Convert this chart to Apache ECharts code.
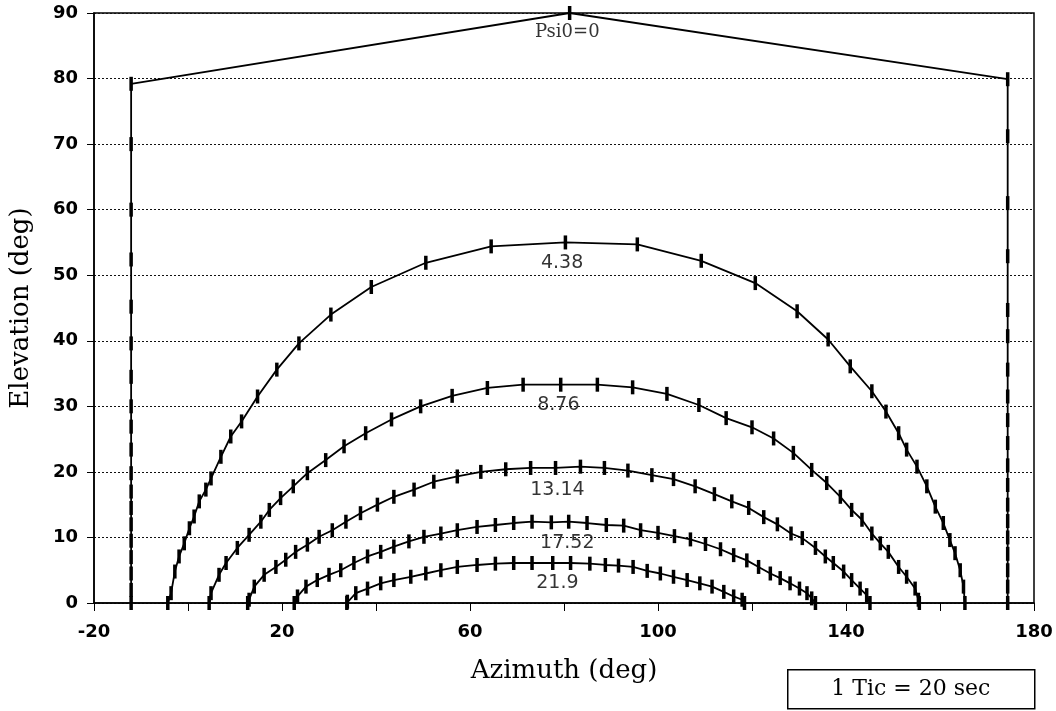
<!DOCTYPE html>
<html>
<head>
<meta charset="utf-8">
<script src="https://cdn.jsdelivr.net/npm/echarts@6/dist/echarts.min.js"></script>
<style>
html,body{margin:0;padding:0;background:#fff;}
#chart{width:1056px;height:711px;}
</style>
</head>
<body>
<div id="chart"></div>
<script>
// Azimuth (deg), Elevation (deg) at each 20 s tic
const curvePsi0 = [[-12.1,0],[-12.1,2],[-12.1,4.5],[-12.1,7],[-12.1,9.5],[-12.1,12],[-12.1,14.5],[-12.1,17],[-12.1,19.8],[-12.1,23.4],[-12.1,26.9],[-12.1,30],[-12.1,34.5],[-12.1,39.6],[-12.1,45.2],[-12.1,52.4],[-12.1,60],[-12.1,70],[-12.1,79.2],[81.2,90],[174.4,79.9],[174.4,71.2],[174.4,61],[174.4,52.9],[174.4,44.7],[174.4,40.7],[174.4,35.6],[174.4,31.5],[174.4,27.9],[174.4,24.4],[174.4,21],[174.4,18],[174.4,15],[174.4,12.5],[174.4,10],[174.4,7.5],[174.4,5],[174.4,2.5],[174.4,0]];
const curve438 = [[-4.3,0],[-3.6,1.5],[-2.8,4.8],[-1.9,7.1],[-0.8,9.1],[0.3,11.4],[1.3,13.2],[2.4,15.5],[3.8,17.3],[4.9,19.0],[7.0,22.3],[9.1,25.4],[11.4,27.7],[14.8,31.5],[18.9,35.6],[23.6,39.6],[30.4,44.0],[39.0,48.2],[50.6,51.9],[64.5,54.4],[80.3,55.0],[95.6,54.7],[109.2,52.2],[120.7,48.8],[129.6,44.5],[136.2,40.2],[140.9,36.1],[145.5,32.3],[148.5,29.2],[151.2,25.9],[152.9,23.4],[155.1,20.8],[157.2,17.8],[159.0,14.7],[160.7,12.2],[162.1,9.6],[163.2,7.6],[164.3,5.0],[165.0,2.5],[165.3,0]];
const curve876 = [[4.5,0],[4.9,1.5],[6.6,4.3],[8.1,6.1],[10.5,8.4],[13.0,10.4],[15.5,12.4],[17.3,14.2],[19.7,16.0],[22.4,17.8],[25.4,19.8],[29.3,21.8],[33.2,23.9],[37.8,25.9],[43.3,28.0],[49.5,30.0],[56.2,31.6],[63.7,32.8],[71.3,33.3],[79.3,33.3],[87.1,33.3],[94.6,32.9],[101.9,31.9],[108.7,30.2],[114.5,28.2],[120.0,26.8],[124.6,25.1],[128.8,22.9],[132.7,20.3],[135.9,18.3],[138.8,16.2],[141.2,14.2],[143.4,12.7],[145.5,10.6],[147.3,9.1],[149.0,7.8],[151.2,5.5],[152.9,4.0],[154.7,2.2],[155.4,0.5],[155.6,0]];
const curve1314 = [[12.7,0],[13.0,0.5],[14.1,2.5],[16.2,4.3],[18.7,5.5],[20.8,6.6],[22.9,7.8],[25.4,8.9],[27.9,10.1],[30.7,11.1],[33.6,12.4],[36.7,13.7],[40.3,15.0],[43.8,16.2],[48.1,17.3],[52.3,18.5],[57.3,19.3],[62.3,20.0],[67.6,20.4],[72.9,20.6],[78.2,20.6],[83.5,20.8],[88.6,20.6],[93.6,20.2],[98.7,19.5],[103.3,18.9],[107.9,17.8],[112.0,16.6],[115.7,15.5],[119.3,14.5],[122.5,13.1],[125.4,12.0],[128.3,10.6],[130.7,9.9],[133.5,8.4],[135.6,7.1],[137.3,6.1],[139.5,4.8],[141.2,3.5],[143.0,2.2],[144.4,1.2],[145.1,0]];
const curve1752 = [[22.6,0],[23.3,1.0],[25.1,2.5],[27.5,3.5],[30.0,4.3],[32.5,5.0],[35.3,6.1],[38.2,7.1],[41.0,7.8],[43.8,8.6],[47.0,9.4],[50.2,10.1],[53.8,10.6],[57.3,11.1],[61.5,11.6],[65.4,11.9],[69.3,12.2],[73.2,12.4],[77.3,12.3],[81.0,12.4],[84.9,12.2],[89.0,11.9],[92.7,11.8],[96.3,11.1],[100.0,10.7],[103.5,10.2],[106.9,9.7],[110.1,9.0],[113.3,8.2],[116.1,7.3],[118.9,6.5],[121.4,5.5],[123.9,4.5],[126.0,3.8],[128.1,3.0],[130.1,2.2],[131.7,1.5],[132.7,0.7],[133.5,0]];
const curve219 = [[33.8,0],[33.9,0.2],[35.7,1.5],[38.2,2.2],[41.0,3.0],[43.8,3.5],[47.4,4.0],[50.6,4.5],[53.8,5.0],[57.3,5.5],[61.5,5.8],[65.4,6.0],[69.3,6.1],[73.2,6.1],[77.6,6.1],[81.4,6.1],[85.5,6.0],[88.8,5.8],[91.6,5.7],[94.7,5.5],[97.7,4.9],[100.5,4.5],[103.3,4.0],[106.2,3.5],[108.9,3.0],[111.5,2.5],[114.0,1.7],[116.1,1.0],[117.9,0.5],[118.4,0]];

const curveLabels = ['Psi0=0','4.38','8.76','13.14','17.52','21.9'];
const labelAz = [80.7, 79.6, 78.8, 78.6, 80.7, 78.6];
const labelEl = [87.0, 51.9, 30.2, 17.3, 9.2, 3.05];

const xTitle = 'Azimuth (deg)';
const yTitle = 'Elevation (deg)';
const noteText = '1 Tic = 20 sec';

const curves = [curvePsi0, curve438, curve876, curve1314, curve1752, curve219];

const chart = echarts.init(document.getElementById('chart'), null, {renderer:'canvas'});

const lineSeries = curves.map((c, i) => ({
  type: 'line',
  name: curveLabels[i],
  data: c,
  showSymbol: true,
  symbol: 'rect',
  symbolSize: [3.5, 14],
  clip: false,
  lineStyle: {color: '#000', width: 1.8},
  itemStyle: {color: '#000'},
  emphasis: {disabled: true},
  z: 3
}));

const labelSeries = {
  type: 'scatter',
  symbolSize: 0,
  z: 5,
  data: curveLabels.map((t, i) => ({
    name: t,
    value: [labelAz[i], labelEl[i]],
    label: {
      show: true,
      position: 'inside',
      formatter: '{b}',
      color: '#000',
      fontSize: i === 0 ? 18 : 19,
      fontWeight: 'normal',
      fontFamily: i === 0 ? 'DejaVu Serif' : 'DejaVu Sans',
      textBorderWidth: 0
    }
  })),
  emphasis: {disabled: true}
};

chart.setOption({
  animation: false,
  backgroundColor: '#fff',
  grid: {left: 93, right: 22, top: 13, bottom: 108, show: true, borderColor: '#000', borderWidth: 1.5, backgroundColor: 'transparent'},
  xAxis: {
    type: 'value', min: -20, max: 180, interval: 20,
    name: xTitle, nameLocation: 'middle', nameGap: 55,
    nameTextStyle: {fontFamily: 'DejaVu Serif', fontSize: 26, color: '#000'},
    axisLine: {show: true, onZero: false, lineStyle: {color: '#000', width: 1.5}},
    axisTick: {show: true, inside: false, length: 8, lineStyle: {color: '#000', width: 1}},
    axisLabel: {
      margin: 20, color: '#000', fontFamily: 'DejaVu Sans', fontWeight: 'bold', fontSize: 18,
      formatter: v => ((v + 20) % 40 === 0 ? String(v) : '')
    },
    splitLine: {show: false}
  },
  yAxis: {
    type: 'value', min: 0, max: 90, interval: 10,
    name: yTitle, nameLocation: 'middle', nameGap: 60,
    nameTextStyle: {fontFamily: 'DejaVu Serif', fontSize: 26, color: '#000'},
    axisLine: {show: true, onZero: false, lineStyle: {color: '#000', width: 1.5}},
    axisTick: {show: true, inside: false, length: 7, lineStyle: {color: '#000', width: 1}},
    axisLabel: {margin: 16, color: '#000', fontFamily: 'DejaVu Sans', fontWeight: 'bold', fontSize: 18},
    splitLine: {show: true, lineStyle: {color: '#111', type: [2, 2], width: 1}}
  },
  series: [...lineSeries, labelSeries],
  graphic: [{
    type: 'group', left: 787, top: 669,
    children: [
      {type: 'rect', shape: {x: 0, y: 0, width: 247, height: 39}, style: {fill: '#fff', stroke: '#000', lineWidth: 1.5}},
      {type: 'text', x: 123, y: 20, style: {text: noteText, fill: '#000', font: '22px "DejaVu Serif"', textAlign: 'center', textVerticalAlign: 'middle'}}
    ]
  }]
});
</script>
</body>
</html>
